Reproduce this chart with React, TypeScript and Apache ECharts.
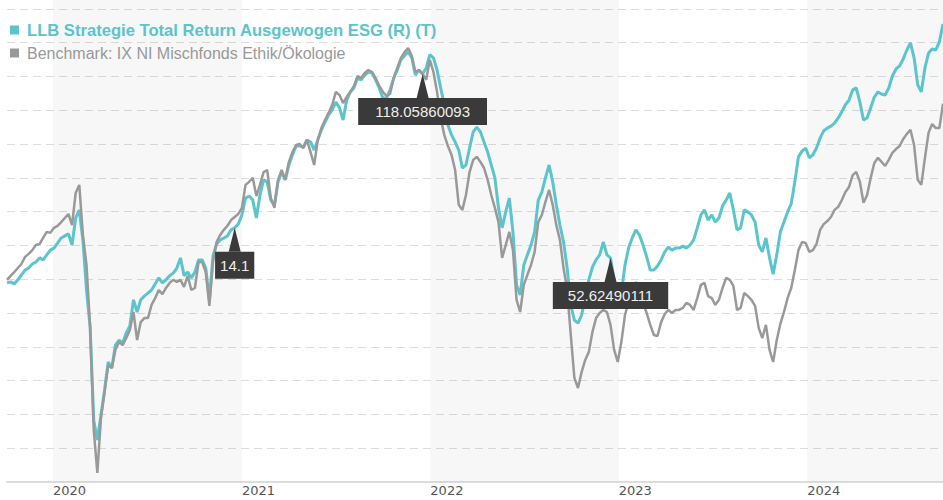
import { useEffect, useRef } from 'react';
import * as echarts from 'echarts';

// first weekly observation: 2019-10-04 (year, monthIndex, day)
const firstWeek = [2019, 9, 4];

const fundName = 'LLB Strategie Total Return Ausgewogen ESG (R) (T)';
const benchName = 'Benchmark: IX NI Mischfonds Ethik/Ökologie';

// weekly values (arbitrary performance index, gridline every 10 units)
const fundValues = [
  58.9, 59.2, 58.6, 59.8, 61.3, 62.7, 63.3, 64.5, 65.1, 66.3,
  65.7, 67.2, 68.6, 69.2, 70.7, 72.2, 72.8, 73.4, 70.1, 78.1,
  80.5, 71.6, 56.8, 45.9, 18.3, 12.4, 19.8, 27.2, 35.5, 33.7,
  40.5, 42.0, 41.1, 44.1, 46.2, 53.9, 50.3, 53.9, 55.0, 55.9,
  56.8, 58.6, 60.4, 58.9, 59.8, 61.0, 61.8, 63.3, 66.3, 61.0,
  62.1, 60.4, 62.1, 65.7, 65.7, 63.3, 53.9, 66.9, 70.4, 71.6,
  72.2, 72.8, 74.6, 75.2, 76.3, 79.0, 84.0, 84.6, 83.4, 78.1,
  84.9, 89.4, 88.8, 83.4, 82.0, 88.8, 91.7, 89.4, 93.8, 96.8,
  99.4, 99.4, 99.1, 101.2, 100.6, 98.2, 101.2, 104.2, 106.5, 108.6,
  110.1, 112.4, 110.7, 107.1, 113.0, 115.4, 116.6, 119.5, 119.0, 120.4,
  121.3, 121.0, 119.0, 116.6, 113.6, 113.6, 116.0, 119.5, 121.9, 124.9,
  126.1, 127.2, 125.5, 120.4, 121.9, 120.7, 122.5, 126.4, 125.5, 121.9,
  116.6, 111.6, 105.6, 102.7, 100.6, 98.2, 92.9, 93.8, 98.8, 103.6,
  105.0, 103.6, 100.6, 97.6, 93.8, 90.0, 81.1, 75.2, 79.9, 84.0,
  74.0, 58.3, 55.3, 64.2, 67.2, 70.1, 74.0, 83.4, 85.8, 90.0,
  93.8, 88.8, 82.0, 76.0, 71.0, 63.3, 52.4, 47.9, 47.0, 49.4,
  54.4, 59.8, 63.6, 65.7, 67.2, 71.0, 67.2, 66.3, 59.8, 54.4,
  55.9, 64.2, 69.2, 72.2, 74.6, 73.1, 70.1, 66.6, 62.7, 62.7,
  63.9, 65.7, 68.1, 69.5, 68.6, 69.2, 69.2, 69.8, 69.2, 70.1,
  71.6, 75.2, 79.0, 80.5, 77.5, 79.0, 76.9, 78.1, 81.7, 83.4,
  85.5, 80.5, 74.6, 75.2, 80.5, 79.9, 79.0, 76.9, 70.1, 68.1,
  72.2, 66.3, 61.5, 67.2, 74.0, 76.9, 79.9, 82.3, 88.8, 96.2,
  97.9, 98.8, 95.9, 96.8, 98.8, 101.8, 103.9, 104.7, 105.3, 106.2,
  107.7, 109.5, 111.6, 113.0, 116.0, 116.6, 112.4, 107.1, 107.7, 110.7,
  113.9, 115.4, 114.8, 114.5, 116.6, 120.1, 122.2, 123.1, 125.2, 127.8,
  129.9, 125.5, 117.5, 115.4, 122.5, 126.9, 128.1, 127.8, 130.2, 135.5,
];

const benchValues = [
  59.8, 61.0, 62.1, 63.3, 64.5, 66.6, 67.5, 68.6, 70.1, 70.4,
  72.2, 74.0, 73.7, 75.2, 75.8, 76.9, 78.1, 79.3, 76.0, 85.5,
  87.9, 73.1, 64.2, 45.9, 15.4, 2.7, 18.9, 26.6, 34.6, 33.7,
  39.1, 41.4, 40.5, 42.6, 45.0, 50.3, 42.0, 47.3, 48.5, 48.5,
  52.4, 54.4, 56.8, 55.6, 57.4, 58.9, 59.8, 59.2, 59.8, 57.7,
  61.0, 56.8, 57.4, 65.1, 65.1, 62.1, 52.1, 65.1, 71.0, 73.1,
  74.6, 75.8, 77.5, 78.4, 79.3, 81.1, 87.9, 88.8, 90.0, 84.6,
  87.9, 91.7, 92.3, 84.0, 81.1, 89.4, 92.3, 89.4, 94.7, 97.6,
  99.7, 100.0, 98.8, 101.2, 97.6, 93.8, 101.2, 104.7, 107.1, 109.2,
  111.6, 115.4, 114.5, 112.1, 113.9, 115.4, 117.2, 120.1, 119.5, 121.0,
  121.9, 121.3, 119.5, 117.2, 115.4, 114.2, 114.8, 119.5, 122.5, 125.5,
  127.2, 128.4, 126.1, 121.3, 121.9, 120.7, 119.0, 124.9, 121.3, 115.4,
  107.7, 102.7, 99.4, 96.8, 92.3, 82.0, 80.5, 84.9, 91.7, 95.3,
  96.2, 94.7, 92.9, 89.4, 84.9, 81.1, 76.9, 66.3, 70.1, 74.0,
  68.6, 53.9, 50.3, 58.3, 61.3, 64.2, 68.1, 76.9, 79.0, 82.9,
  86.4, 82.0, 76.0, 71.6, 63.3, 56.8, 43.5, 30.8, 27.8, 32.5,
  36.1, 38.5, 44.4, 48.5, 50.0, 50.9, 50.3, 46.5, 39.1, 35.5,
  41.4, 49.4, 53.3, 55.3, 59.2, 56.2, 53.0, 50.0, 46.5, 43.5,
  43.2, 47.3, 49.7, 50.9, 50.0, 50.9, 50.9, 51.5, 53.0, 52.4,
  50.9, 54.4, 58.3, 58.9, 55.0, 54.4, 52.4, 53.9, 57.4, 60.4,
  59.8, 58.0, 50.9, 51.5, 55.9, 55.0, 53.9, 52.1, 45.6, 42.6,
  46.5, 39.1, 35.5, 42.0, 46.8, 50.3, 54.4, 57.4, 62.7, 68.6,
  71.0, 70.7, 68.1, 68.6, 70.4, 74.6, 76.3, 77.2, 78.4, 80.5,
  81.4, 83.4, 85.8, 87.3, 90.8, 91.7, 88.8, 82.6, 84.9, 90.0,
  94.4, 95.9, 94.7, 93.5, 95.3, 97.4, 98.5, 99.4, 101.5, 103.0,
  104.2, 99.7, 89.4, 87.9, 95.9, 103.3, 105.9, 104.7, 104.7, 111.9,
];

const yearTicks = [2020, 2021, 2022, 2023, 2024];
const shadedYears = [2020, 2022, 2024];

const calloutIndex = [63, 115, 167];
const calloutText = ['14.1', '118.05860093', '52.62490111'];

// styles
const TEAL = '#5bc4cc';
const GREY = '#999999';
const calloutPad = [5, 17, 15];

export default function App() {
  const ref = useRef<HTMLDivElement>(null);

  useEffect(() => {
    if (!ref.current) return;
    const chart = echarts.init(ref.current, undefined, { renderer: 'svg' });

    const dates = fundValues.map((_, i) =>
      new Date(firstWeek[0], firstWeek[1], firstWeek[2] + 7 * i).getTime()
    );
    const firstDate = dates[0];
    const lastDate = dates[dates.length - 1];

    const fundData = dates.map((d, i) => [d, fundValues[i]]);
    const benchData = dates.map((d, i) => [d, benchValues[i]]);

    const option: any = {
      animation: false,
      backgroundColor: '#ffffff',
      grid: { left: 7, right: 0, top: 0, bottom: 18, containLabel: false },
      legend: {
        orient: 'vertical',
        left: 10,
        top: 21,
        padding: 0,
        icon: 'rect',
        itemWidth: 9,
        itemHeight: 9,
        itemGap: 5,
        selectedMode: false,
        textStyle: {
          fontSize: 16,
          lineHeight: 18,
          fontFamily: '"Liberation Sans", Arial, sans-serif',
          padding: [0, 0, 0, 3],
        },
        data: [
          { name: fundName, textStyle: { color: TEAL, fontWeight: 'bold', fontSize: 16.6 } },
          { name: benchName, textStyle: { color: GREY } },
        ],
      },
      xAxis: {
        type: 'value',
        min: firstDate,
        max: lastDate,
        axisLine: { show: true, lineStyle: { color: '#dddddd', width: 2 } },
        axisTick: { show: false },
        splitLine: { show: false },
        axisLabel: {
          customValues: yearTicks.map((y) => new Date(y, 0, 1).getTime()),
          formatter: (v: number) => String(new Date(v).getFullYear()),
          align: 'left',
          margin: 2,
          color: '#555555',
          fontSize: 13,
          fontFamily: '"DejaVu Sans", sans-serif',
        },
      },
      yAxis: {
        type: 'value',
        min: 0,
        max: 142.6,
        interval: 10,
        axisLine: { show: false },
        axisTick: { show: false },
        axisLabel: { show: false },
        splitLine: {
          show: true,
          showMaxLine: false,
          showMinLine: false,
          lineStyle: { color: '#dddddd', type: [8, 5], width: 1 },
        },
      },
      series: [
        {
          name: 'bands',
          type: 'line',
          z: -1,
          silent: true,
          symbol: 'none',
          data: fundData,
          lineStyle: { opacity: 0 },
          markArea: {
            silent: true,
            itemStyle: { color: 'rgba(0,0,0,0.03)' },
            data: shadedYears.map((y) => [
              { xAxis: new Date(y, 0, 1).getTime() },
              { xAxis: Math.min(new Date(y + 1, 0, 1).getTime(), lastDate) },
            ]),
          },
        },
        {
          name: fundName,
          type: 'line',
          z: 2,
          symbol: 'none',
          data: fundData,
          color: TEAL,
          lineStyle: { color: TEAL, width: 3 },
        },
        {
          name: benchName,
          type: 'line',
          z: 3,
          symbol: 'none',
          data: benchData,
          color: GREY,
          lineStyle: { color: GREY, width: 2.5 },
          markPoint: {
            silent: true,
            symbol: 'triangle',
            symbolSize: [12, 24],
            symbolOffset: [0, 12],
            itemStyle: { color: '#3a3a3a' },
            label: {
              show: true,
              position: 'bottom',
              distance: 0,
              formatter: '{b}',
              color: '#eeeeee',
              fontSize: 15,
              lineHeight: 17,
              fontFamily: '"Liberation Sans", Arial, sans-serif',
              backgroundColor: '#3a3a3a',
            },
            data: calloutIndex.map((idx, i) => ({
              name: calloutText[i],
              coord: [dates[idx], fundValues[idx]],
              label: { padding: [5, calloutPad[i]] },
            })),
          },
        },
      ],
    };

    chart.setOption(option);
    return () => chart.dispose();
  }, []);

  return (
    <div
      ref={ref}
      style={{ position: 'fixed', left: 0, top: 0, width: 943, height: 500 }}
    />
  );
}
